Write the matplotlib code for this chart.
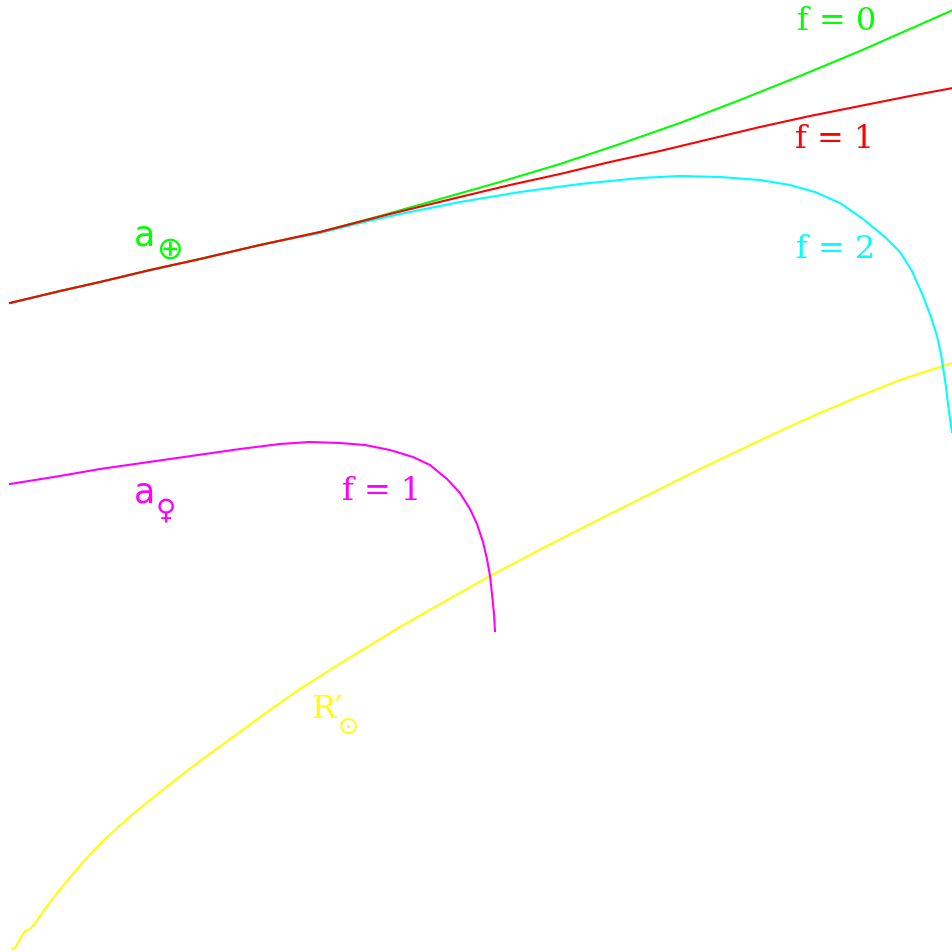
import matplotlib
matplotlib.use("Agg")
import matplotlib.pyplot as plt

# Curves (x, y in plot units; y grows downward)
GREEN_X = [10, 60, 100, 150, 200, 260, 320, 380, 440, 500, 560, 620, 680, 740,
           800, 860, 910, 953]
GREEN_Y = [304, 292, 283, 271, 260, 246, 233, 217, 200, 183, 165, 145, 124, 101,
           77, 52, 30, 11]

RED_X = [10, 60, 100, 150, 200, 260, 320, 390, 460, 510, 560, 610, 660, 710,
         760, 810, 860, 910, 953]
RED_Y = [304, 292, 283, 271, 260, 246, 233, 215, 198, 186, 175, 163, 152, 140,
         128, 117, 107, 97, 89]

CYAN_X = [10, 100, 200, 260, 320, 360, 400, 460, 520, 580, 640, 680, 720, 760,
          790, 815, 840, 863, 885, 900, 912, 923, 931, 937, 941, 943, 946, 948,
          950, 952]
CYAN_Y = [304, 283, 260, 246, 234, 224, 215, 203, 193, 185, 179, 177, 178, 181,
          186, 193, 204, 220, 238, 253, 272, 297, 318, 337, 355, 368, 388, 405,
          420, 433]

MAGENTA_X = [10, 60, 100, 170, 240, 280, 310, 340, 365, 390, 413, 430, 447, 460,
             470, 477, 483, 487, 490, 492, 494, 495]
MAGENTA_Y = [485, 477, 470, 460, 450, 445, 443, 444, 446, 451, 458, 466, 480,
             494, 510, 525, 543, 560, 577, 595, 615, 632]

YELLOW_X = [12, 15, 20, 25, 30, 33, 50, 67, 83, 100, 117, 133, 150, 167, 183,
            200, 233, 267, 300, 333, 367, 400, 433, 467, 490, 545, 600, 650, 700,
            740, 780, 820, 860, 900, 943, 953]
YELLOW_Y = [950, 949, 940, 932, 930, 927, 903, 882, 863, 845, 829, 815, 801, 787.5,
            775, 762, 738, 713, 690, 669, 648, 628, 609, 590, 577, 548, 520, 495,
            470, 451, 432, 414, 397, 381, 367, 364]

# Labels: (text, x, y, color)
F_LABELS = [
    ("f = 0", 837, 22, "#00ff00"),
    ("f = 1", 835, 140, "#ff0000"),
    ("f = 2", 836, 249, "#00ffff"),
    ("f = 1", 382, 492, "#ff00ff"),
]

fig = plt.figure(figsize=(9.53, 9.53), dpi=100)
ax = fig.add_axes([0, 0, 1, 1])
ax.set_xlim(0, 953)
ax.set_ylim(953, 0)
ax.axis("off")

lw = 1.5
ax.plot(YELLOW_X, YELLOW_Y, color="#ffff00", lw=lw)
ax.plot(MAGENTA_X, MAGENTA_Y, color="#ff00ff", lw=lw)
ax.plot(CYAN_X, CYAN_Y, color="#00ffff", lw=lw)
ax.plot(GREEN_X, GREEN_Y, color="#00ff00", lw=lw)
ax.plot(RED_X, RED_Y, color="#ff0000", lw=lw)

for txt, x, y, c in F_LABELS:
    ax.text(x, y, txt, color=c, fontsize=23, family="DejaVu Serif",
            ha="center", va="center")

# a with earth symbol
ax.text(145, 236, "a", color="#00ff00", fontsize=25, family="DejaVu Sans",
        ha="center", va="center")
ax.text(170, 250, "\u2295", color="#00ff00", fontsize=23, family="DejaVu Sans",
        ha="center", va="center")

# a with venus symbol
ax.text(145, 493, "a", color="#ff00ff", fontsize=25, family="DejaVu Sans",
        ha="center", va="center")
ax.text(166, 510, "\u2640", color="#ff00ff", fontsize=20, family="DejaVu Sans",
        ha="center", va="center")

# R' with sun symbol
ax.text(327, 710, "R\u2032", color="#ffff00", fontsize=23, family="DejaVu Serif",
        ha="center", va="center")
ax.text(348, 727, "\u2299", color="#ffff00", fontsize=18, family="DejaVu Sans",
        ha="center", va="center")

fig.savefig("out.png", dpi=100, facecolor="white")
